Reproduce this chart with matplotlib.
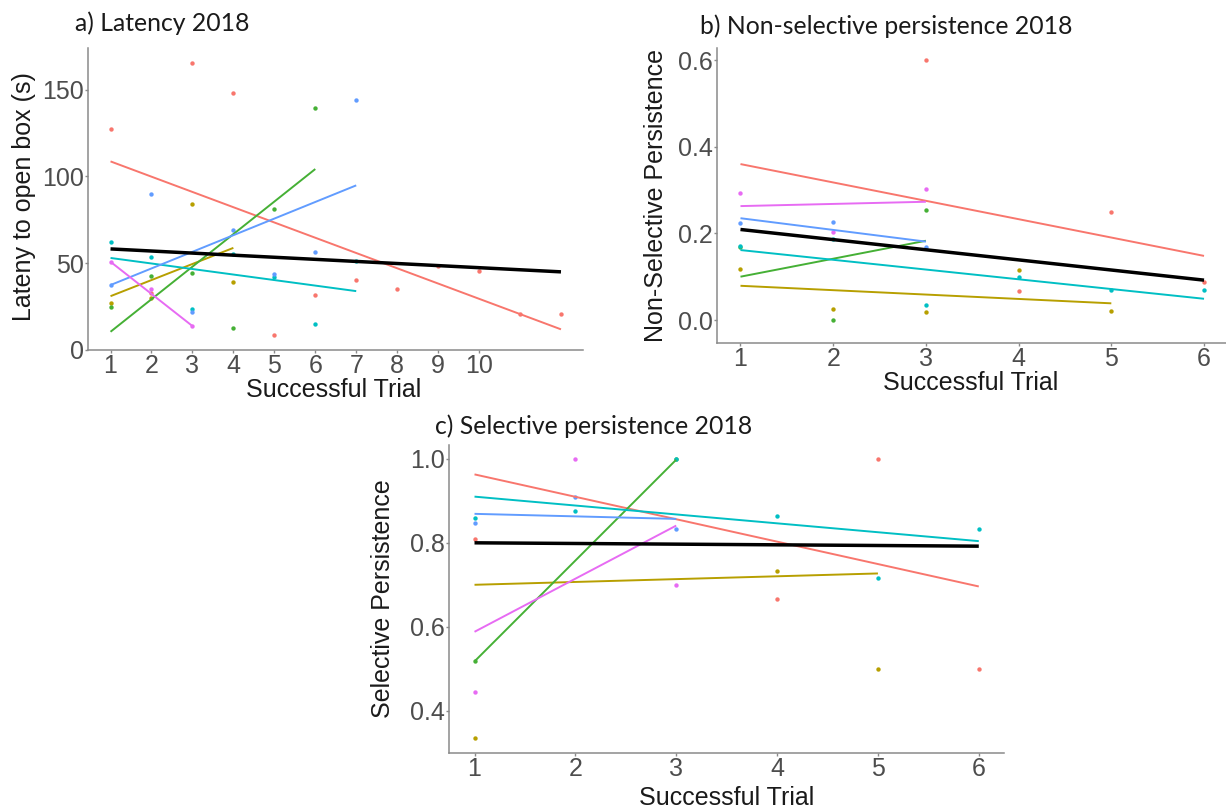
import numpy as np
import matplotlib.pyplot as plt

plt.rcParams['font.family'] = ['Liberation Sans', 'DejaVu Sans']

# one colour per bird (ggplot style hues)
colours = ['#F8766D', '#B79F00', '#45B035', '#00BFC4', '#619CFF', '#E76BF3']

# a) Latency 2018 - points per bird
lat_x = [[1, 2, 3, 4, 5, 6, 7, 8, 9, 10, 11, 12],
         [1, 2, 3, 4],
         [1, 2, 3, 4, 5, 6],
         [1, 2, 3, 4, 5, 6, 7],
         [1, 2, 3, 4, 5, 6, 7],
         [1, 2, 3]]
lat_y = [[127, 33, 165.5, 147.7, 8.6, 31.6, 40.5, 35.4, 48.3, 45.4, 20.5, 20.5],
         [26.8, 30, 84, 39.3],
         [24.7, 42.5, 44.4, 12.6, 81.2, 139.6],
         [62.2, 53.4, 23.7, 55, 42, 14.8, 51.5],
         [37.4, 90, 21.8, 69.3, 43.5, 56.5, 143.7],
         [50.8, 34.9, 13.8]]
# fitted lines per bird (first and last trial)
lat_fit_x = [[1, 12], [1, 4], [1, 6], [1, 7], [1, 7], [1, 3]]
lat_fit_y = [[108.6, 11.9], [31, 58.8], [10.5, 104.2], [53, 33.9], [37.4, 94.8], [50.8, 13.8]]
lat_all_x = [1, 12]
lat_all_y = [58.2, 45]

# b) Non-selective persistence 2018
nsp_x = [[3, 4, 5, 6],
         [1, 2, 3, 4, 5],
         [1, 2, 3],
         [1, 2, 3, 4, 5, 6],
         [1, 2, 3],
         [1, 2, 3]]
nsp_y = [[0.6, 0.067, 0.25, 0.088],
         [0.118, 0.0246, 0.0185, 0.115, 0.0215],
         [0.168, 0.0, 0.254],
         [0.171, 0.186, 0.035, 0.1, 0.069, 0.069],
         [0.2245, 0.227, 0.168],
         [0.294, 0.204, 0.303]]
nsp_fit_x = [[1, 6], [1, 5], [1, 3], [1, 6], [1, 3], [1, 3]]
nsp_fit_y = [[0.36, 0.148], [0.079, 0.0385], [0.1, 0.183], [0.1615, 0.049], [0.235, 0.181], [0.263, 0.273]]
nsp_all_x = [1, 6]
nsp_all_y = [0.209, 0.092]

# c) Selective persistence 2018
sp_x = [[1, 4, 5, 6],
        [1, 4, 5],
        [1, 3],
        [1, 2, 3, 4, 5, 6],
        [1, 2, 3],
        [1, 2, 3]]
sp_y = [[0.81, 0.667, 1.0, 0.5],
        [0.3345, 0.733, 0.5],
        [0.5175, 1.0],
        [0.858, 0.8755, 1.0, 0.8636, 0.715, 0.834],
        [0.846, 0.91, 0.834],
        [0.445, 1.0, 0.70]]
sp_fit_x = [[1, 6], [1, 5], [1, 3], [1, 6], [1, 3], [1, 3]]
sp_fit_y = [[0.963, 0.696], [0.70, 0.727], [0.5175, 0.998], [0.91, 0.804], [0.869, 0.857], [0.588, 0.841]]
sp_all_x = [1, 6]
sp_all_y = [0.80, 0.792]

W, H = 1226, 809
def box(left, top, right, bottom):
    return [left/W, 1-bottom/H, (right-left)/W, (bottom-top)/H]

def panel(ax, xs, ys, fx, fy, ax_x, ax_y):
    for i in range(6):
        ax.scatter(xs[i], ys[i], s=10, color=colours[i], linewidths=0, zorder=2, clip_on=False)
    for i in range(6):
        ax.plot(fx[i], fy[i], color=colours[i], lw=1.4, zorder=3, solid_capstyle='butt')
    ax.plot(ax_x, ax_y, color='black', lw=2.5, zorder=4, solid_capstyle='butt')
    ax.spines['top'].set_visible(False)
    ax.spines['right'].set_visible(False)
    for s in ['left', 'bottom']:
        ax.spines[s].set_color('#8a8a8a')
        ax.spines[s].set_linewidth(1.1)
    ax.tick_params(color='#8a8a8a', labelcolor='#4D4D4D', labelsize=18, length=2.5, width=1, pad=0.5)

fig = plt.figure(figsize=(12.26, 8.09), dpi=100)

ax1 = fig.add_axes(box(88, 48, 583.5, 350))
panel(ax1, lat_x, lat_y, lat_fit_x, lat_fit_y, lat_all_x, lat_all_y)
ax1.set_xlim(0.45, 12.55)
ax1.set_ylim(0.1, 173.9)
ax1.set_xticks(range(1, 11))
ax1.set_yticks([0, 50, 100, 150])

ax2 = fig.add_axes(box(717.3, 48, 1226, 342.7))
panel(ax2, nsp_x, nsp_y, nsp_fit_x, nsp_fit_y, nsp_all_x, nsp_all_y)
ax2.set_xlim(0.75, 6.237)
ax2.set_ylim(-0.0524, 0.628)
ax2.set_xticks(range(1, 7))
ax2.set_yticks([0.0, 0.2, 0.4, 0.6])
ax2.set_yticklabels(['0.0', '0.2', '0.4', '0.6'])

ax3 = fig.add_axes(box(449.3, 445, 1004, 752.7))
panel(ax3, sp_x, sp_y, sp_fit_x, sp_fit_y, sp_all_x, sp_all_y)
ax3.set_xlim(0.75, 6.25)
ax3.set_ylim(0.3, 1.033)
ax3.set_xticks(range(1, 7))
ax3.set_yticks([0.4, 0.6, 0.8, 1.0])
ax3.set_yticklabels(['0.4', '0.6', '0.8', '1.0'])

#titles and axis labels placed in pixel positions
def txt(x, y, s, **kw):
    fig.text(x/W, 1-y/H, s, **kw)

tkw = dict(family=['Lato', 'DejaVu Sans'], fontsize=17.8, color='#1a1a1a', ha='left', va='baseline')
txt(75, 31, 'a) Latency 2018', **tkw)
txt(700, 34, 'b) Non-selective persistence 2018', **tkw)
txt(435, 434, 'c) Selective persistence 2018', **tkw)

lkw = dict(fontsize=18, color='#1a1a1a', ha='center', va='baseline')
txt(334, 397, 'Successful Trial', **lkw)
txt(971, 390, 'Successful Trial', **lkw)
txt(727, 805, 'Successful Trial', **lkw)
lkw = dict(fontsize=18, color='#1a1a1a', ha='center', va='center')
txt(24, 197, 'Lateny to open box (s)', rotation=90, **lkw)
txt(656, 195, 'Non-Selective Persistence', rotation=90, **lkw)
txt(383, 599, 'Selective Persistence', rotation=90, **lkw)

plt.savefig('out.png', dpi=100)
